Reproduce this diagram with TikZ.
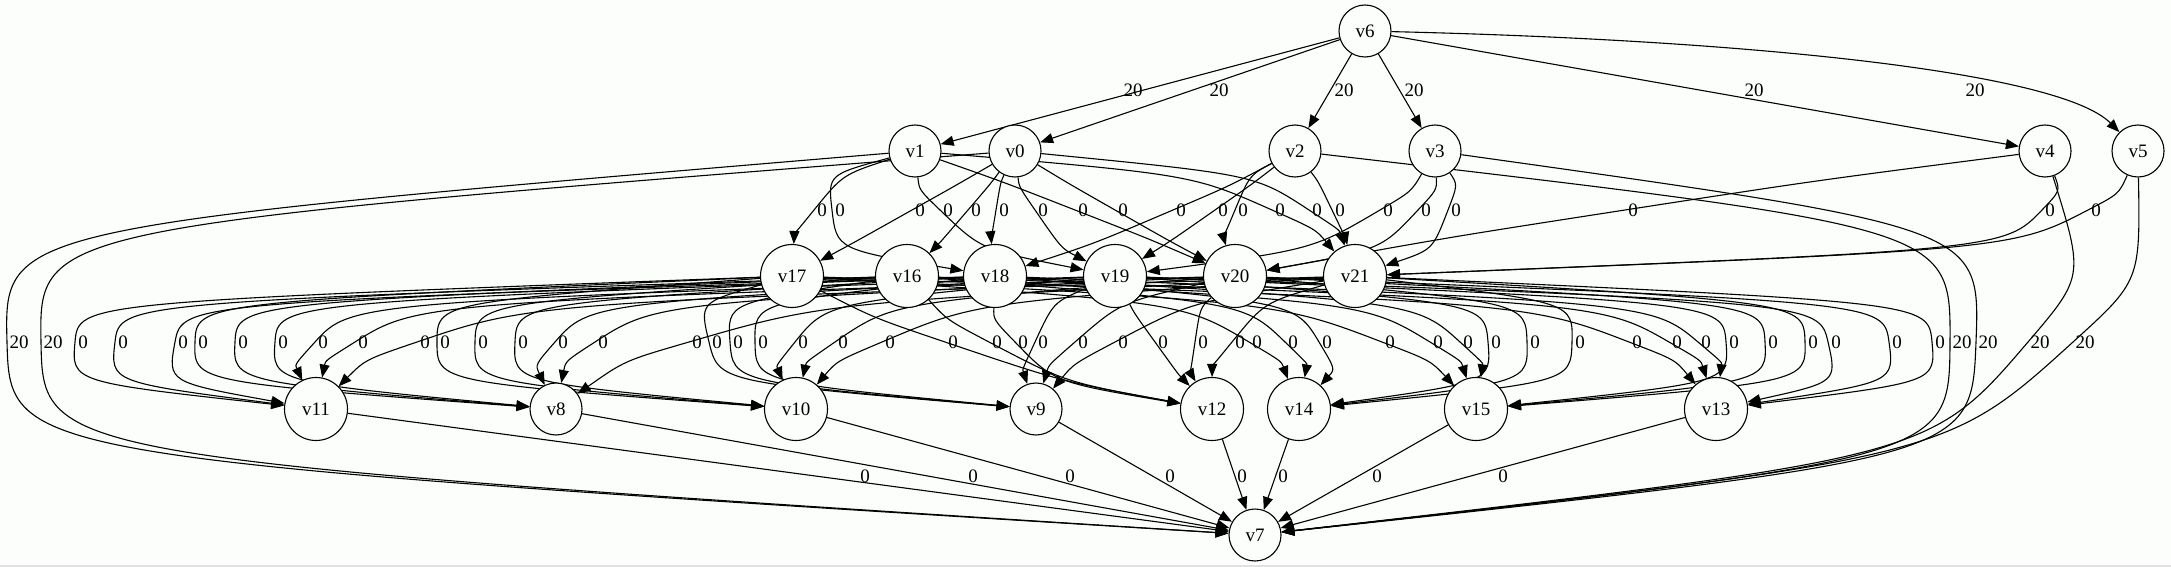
\documentclass[tikz,border=0pt]{standalone}
\usepackage{fontspec}
\setmainfont{Liberation Serif}
\usetikzlibrary{arrows.meta}
\definecolor{bgc}{RGB}{252,254,252}
\pgfdeclarelayer{bglayer}
\pgfdeclarelayer{edges}
\pgfsetlayers{bglayer,edges,main}
\tikzset{
  vx/.style={circle, draw, line width=1.1pt, fill=bgc, inner sep=0pt, font=\fontsize{19}{22}\selectfont},
  e/.style={line width=1.1pt, -{Triangle[length=13pt,width=10pt]}},
  lb/.style={font=\fontsize{19}{22}\selectfont, inner sep=0pt},
}
\newcommand\nd[4]{%
  \expandafter\def\csname PX@#1\endcsname{#2}%
  \expandafter\def\csname PY@#1\endcsname{#3}%
  \node[vx, minimum size=#4pt] (#1) at (#2,#3) {#1};}
% \E{src}{tgt}{label x}{label y}{label}{offset}
\newcommand\E[6]{%
  \pgfmathsetmacro\gxa{\csname PX@#1\endcsname}%
  \pgfmathsetmacro\gya{\csname PY@#1\endcsname}%
  \pgfmathsetmacro\gxb{\csname PX@#2\endcsname}%
  \pgfmathsetmacro\gyb{\csname PY@#2\endcsname}%
  \pgfmathsetmacro\gxw{#3-#6}%
  \pgfmathsetmacro\gyw{#4}%
  \pgfmathsetmacro\gla{100*veclen((\gxw-\gxa)/100,(\gyw-\gya)/100)}%
  \pgfmathsetmacro\glb{100*veclen((\gxb-\gxw)/100,(\gyb-\gyw)/100)}%
  \pgfmathsetmacro\gtx{(\gxw-\gxa)/\gla+(\gxb-\gxw)/\glb}%
  \pgfmathsetmacro\gty{(\gyw-\gya)/\gla+(\gyb-\gyw)/\glb}%
  \pgfmathsetmacro\gtn{veclen(\gtx,\gty)}%
  \pgfmathsetmacro\gtx{(\gtx)/\gtn}%
  \pgfmathsetmacro\gty{max((\gty)/\gtn,0.05)}%
  \pgfmathsetmacro\gda{min(0.6*(\gyw-\gya)/\gty,0.45*\gla)}%
  \pgfmathsetmacro\gdb{min(0.6*(\gyb-\gyw)/\gty,0.45*\glb)}%
  \pgfmathsetmacro\gcax{\gxw-(\gtx)*(\gda)}%
  \pgfmathsetmacro\gcay{\gyw-(\gty)*(\gda)}%
  \pgfmathsetmacro\gcbx{\gxw+(\gtx)*(\gdb)}%
  \pgfmathsetmacro\gcby{\gyw+(\gty)*(\gdb)}%
  \draw[e] (#1) .. controls (\gcax,\gcay) .. (\gxw,\gyw) .. controls (\gcbx,\gcby) .. (#2);%
  \node[lb] at (#3,#4) {#5};}
\newcommand\Z[4]{\E{#1}{#2}{#3}{#4}{0}{8}}
\newcommand\T[4]{\E{#1}{#2}{#3}{#4}{20}{12}}
\begin{document}
\begin{tikzpicture}[x=1pt,y=-1pt]
\useasboundingbox (0,0) rectangle (2171,567);
\begin{pgfonlayer}{bglayer}
\fill[bgc] (0,0) rectangle (2171,567);
\fill[black!12] (0,565) rectangle (2171,567);
\end{pgfonlayer}
% nodes
\nd{v6}{1365}{31}{52}
\nd{v1}{915}{151}{52}
\nd{v0}{1015}{151}{52}
\nd{v2}{1295}{151}{52}
\nd{v3}{1435}{151}{52}
\nd{v4}{2045}{151}{52}
\nd{v5}{2138}{151}{52}
\nd{v17}{792}{276}{63}
\nd{v16}{907}{276}{63}
\nd{v18}{995}{276}{63}
\nd{v19}{1115}{276}{63}
\nd{v20}{1235}{276}{63}
\nd{v21}{1355}{276}{63}
\nd{v11}{316}{409}{63}
\nd{v8}{556}{409}{52}
\nd{v10}{796}{409}{63}
\nd{v9}{1036}{409}{52}
\nd{v12}{1212}{409}{63}
\nd{v14}{1299}{409}{63}
\nd{v15}{1476}{409}{63}
\nd{v13}{1716}{409}{63}
\nd{v7}{1255}{535}{52}
\begin{pgfonlayer}{edges}
% source edges
\draw[e] (v6) -- (v1); \node[lb] at (1133,90) {20};
\draw[e] (v6) -- (v0); \node[lb] at (1219,90) {20};
\draw[e] (v6) -- (v2); \node[lb] at (1344,90) {20};
\draw[e] (v6) -- (v3); \node[lb] at (1414,90) {20};
\draw[e] (v6) -- (v4); \node[lb] at (1754,90) {20};
\draw[e] (v6) .. controls (1750,40) and (2060,72) .. (v5); \node[lb] at (1975,90) {20};
% first layer to middle layer
\Z{v1}{v17}{822}{210}
\Z{v1}{v18}{840}{210}
\Z{v0}{v17}{920}{210}
\Z{v1}{v19}{948}{210}
\Z{v0}{v16}{976}{210}
\Z{v0}{v18}{1004}{210}
\Z{v0}{v19}{1043}{210}
\Z{v1}{v20}{1083}{210}
\Z{v0}{v20}{1123}{210}
\Z{v2}{v18}{1181}{210}
\Z{v2}{v19}{1223}{210}
\Z{v2}{v20}{1243}{210}
\Z{v1}{v21}{1280}{210}
\Z{v0}{v21}{1317}{210}
\Z{v2}{v21}{1340}{210}
\Z{v3}{v19}{1388}{210}
\Z{v3}{v20}{1426}{210}
\Z{v3}{v21}{1456}{210}
\Z{v4}{v20}{1633}{210}
\Z{v4}{v21}{2050}{210}
\Z{v5}{v21}{2096}{210}
% first layer to sink
\T{v1}{v7}{19}{342}
\T{v0}{v7}{53}{342}
\T{v2}{v7}{1962}{342}
\T{v3}{v7}{1988}{342}
\T{v4}{v7}{2040}{342}
\T{v5}{v7}{2085}{342}
% middle layer to third layer
\Z{v17}{v11}{83}{342}  \Z{v16}{v11}{123}{342} \Z{v18}{v11}{183}{342}
\Z{v19}{v11}{323}{342} \Z{v20}{v11}{363}{342} \Z{v21}{v11}{425}{342}
\Z{v17}{v8}{203}{342}  \Z{v16}{v8}{243}{342}  \Z{v18}{v8}{283}{342}
\Z{v19}{v8}{563}{342}  \Z{v20}{v8}{603}{342}  \Z{v21}{v8}{697}{342}
\Z{v17}{v10}{445}{342} \Z{v16}{v10}{483}{342} \Z{v18}{v10}{523}{342}
\Z{v19}{v10}{803}{342} \Z{v20}{v10}{843}{342} \Z{v21}{v10}{890}{342}
\Z{v17}{v9}{717}{342}  \Z{v16}{v9}{738}{342}  \Z{v18}{v9}{763}{342}
\Z{v19}{v9}{1043}{342} \Z{v20}{v9}{1083}{342} \Z{v21}{v9}{1123}{342}
\Z{v17}{v12}{953}{342} \Z{v16}{v12}{997}{342} \Z{v18}{v12}{1023}{342}
\Z{v19}{v12}{1163}{342} \Z{v20}{v12}{1203}{342} \Z{v21}{v12}{1240}{342}
\Z{v17}{v14}{1257}{342} \Z{v16}{v14}{1293}{342} \Z{v18}{v14}{1327}{342}
\Z{v19}{v14}{1496}{342} \Z{v20}{v14}{1535}{342} \Z{v21}{v14}{1580}{342}
\Z{v17}{v15}{1390}{342} \Z{v16}{v15}{1438}{342} \Z{v18}{v15}{1468}{342}
\Z{v19}{v15}{1734}{342} \Z{v20}{v15}{1773}{342} \Z{v21}{v15}{1813}{342}
\Z{v17}{v13}{1637}{342} \Z{v16}{v13}{1677}{342} \Z{v18}{v13}{1706}{342}
\Z{v19}{v13}{1836}{342} \Z{v20}{v13}{1897}{342} \Z{v21}{v13}{1940}{342}
% third layer to sink
\draw[e] (v11) -- (v7); \node[lb] at (865,476) {0};
\draw[e] (v8) -- (v7);  \node[lb] at (973,476) {0};
\draw[e] (v10) -- (v7); \node[lb] at (1070,476) {0};
\draw[e] (v9) -- (v7);  \node[lb] at (1170,476) {0};
\draw[e] (v12) -- (v7); \node[lb] at (1242,476) {0};
\draw[e] (v14) -- (v7); \node[lb] at (1283,476) {0};
\draw[e] (v15) -- (v7); \node[lb] at (1377,476) {0};
\draw[e] (v13) -- (v7); \node[lb] at (1503,476) {0};
\end{pgfonlayer}
\end{tikzpicture}
\end{document}
